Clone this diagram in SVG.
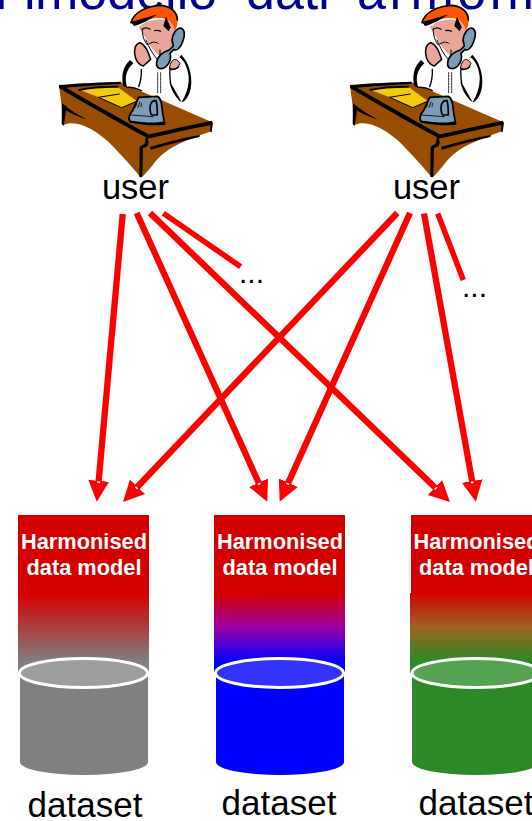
<svg xmlns="http://www.w3.org/2000/svg" width="532" height="821" viewBox="0 0 532 821">
<style>
text{font-family:"Liberation Sans",Arial,sans-serif}
.title{font-size:52px;fill:#000099}
.lbl{font-size:34.5px;fill:#000;text-anchor:middle}
.ds{font-size:35px}
.dots{font-size:30px;fill:#000}
.hdr{font-size:21.8px;font-weight:bold;fill:#fff;text-anchor:middle}
.hd{fill:#d40000}
.lid{stroke:#fff;stroke-width:3}
.cn line{stroke:#f00;stroke-width:6.3;fill:none}
.cn .short{stroke-width:5.5}
.k{fill:none;stroke:#000;stroke-linecap:round;stroke-linejoin:round}
</style>
<defs>
<linearGradient id="gGray" x1="0" y1="0" x2="0" y2="1"><stop offset="0" stop-color="#d40000"/><stop offset="1" stop-color="#808080"/></linearGradient>
<linearGradient id="gBlue" x1="0" y1="0" x2="0" y2="1"><stop offset="0" stop-color="#d40000"/><stop offset=".5" stop-color="#9a00a8"/><stop offset="1" stop-color="#0000ff"/></linearGradient>
<linearGradient id="gGreen" x1="0" y1="0" x2="0" y2="1"><stop offset="0" stop-color="#d40000"/><stop offset=".5" stop-color="#9c6520"/><stop offset="1" stop-color="#2b8a27"/></linearGradient>
<marker id="head" markerUnits="userSpaceOnUse" markerWidth="24" markerHeight="24" refX="1" refY="12" orient="auto">
<path d="M0 1.6 L21 12 L0 22.4Z" fill="#f00"/><path d="M1.4 10.5V13.5" stroke="#fff" stroke-width="1.6" fill="none"/>
</marker>
<g id="clerk" transform="translate(40 0) scale(.3333)">
<path d="M57 258 L240 246 L515 366 L514 394 C450 415 385 440 350 480 C330 505 315 525 303 533 C280 505 245 465 205 425 C165 390 110 355 68 376 L64 310Z" fill="#994d00"/>
<path d="M120 270 L228 257 L290 303 L245 323 L180 293Z" fill="#f2cc0c"/>
<path class="k" stroke-width="6" d="M118 270 C150 262 195 260 232 260"/>
<path class="k" stroke-width="3" d="M175 292 L238 282 M180 294 L245 323 L290 304"/>
<path d="M57 255 C120 249 190 247 244 245 L240 252 C180 255 120 259 78 263 C150 305 240 355 324 402 L318 412 C225 362 130 307 57 264Z"/>
<path d="M318 405 C385 390 450 376 516 362 L516 374 C450 387 385 402 322 416Z"/>
<path d="M330 441 C380 426 430 413 480 405 L478 411 C430 422 380 436 333 449Z"/>
<path d="M66 310 L80 320 L71 378 L65 372Z"/>
<path d="M68 312 C90 330 115 345 140 358 C110 349 85 337 68 324Z"/>
<path d="M318 410 C328 420 329 434 318 442 L309 444 L307 530 L298 531 L299 440 L314 431Z"/>
<path d="M513 362 L519 368 L515 397 L510 394Z"/>
<path d="M252 240 C256 205 275 185 295 175 L340 190 L392 200 L420 165 C445 185 458 220 452 260 C447 285 440 300 425 305 L300 262 L262 262Z" fill="#fff"/>
<path d="M296 82 C320 58 365 52 392 66 L406 82 L395 150 C385 150 370 155 358 168 C345 155 330 142 320 118Z" fill="#e8a598"/>
<path d="M272 68 C278 38 320 16 365 15 C398 20 413 40 413 62 C413 72 410 82 405 92 C400 72 388 58 365 54 C340 52 310 60 282 76Z" fill="#ff5500"/>
<path class="k" stroke-width="5" d="M273 68 C280 38 320 17 365 16 C397 20 412 40 412 60"/>
<path d="M272 64 C290 64 315 52 350 44 C332 58 305 72 282 78Z"/>
<path d="M378 50 L392 82 L386 94 L370 78Z"/>
<path class="k" stroke-width="3.5" d="M306 88 C315 82 322 82 330 88 M344 92 C350 90 358 92 362 94"/>
<path class="k" stroke-width="3" d="M307 90 C306 105 314 128 322 135 M326 132 L340 126 C345 128 352 126 354 130"/>
<path class="k" stroke-width="3" d="M360 150 L360 178 M318 120 C328 145 340 165 352 178"/>
<path d="M286 172 C280 150 285 132 300 128 C318 135 325 158 332 178 L310 198 C298 195 290 185 286 172Z" fill="#e8a598" stroke="#000" stroke-width="4.5" stroke-linejoin="round"/>
<path d="M388 205 C395 170 410 175 420 190 L412 205 L395 210Z" fill="#e8a598" stroke="#000" stroke-width="3"/>
<path d="M396 120 C398 100 410 84 422 84 C435 88 436 105 428 125 C422 142 410 155 402 148 L390 160 C395 170 390 190 378 200 C362 212 348 205 350 188 C352 170 368 155 388 150 L400 138Z" fill="#7d9cb8" stroke="#000" stroke-width="5" stroke-linejoin="round"/>
<path class="k" stroke-width="4" d="M296 260 C300 250 305 230 304 208 M262 262 C285 260 295 268 304 272"/>
<path d="M270 180 L280 190 C258 210 252 235 262 264 L250 258 C243 230 248 200 270 180Z"/>
<path d="M424 164 C445 185 458 225 453 260 C450 282 438 305 425 306 C435 290 448 260 446 230 C444 205 432 180 418 172Z"/>
<path d="M392 248 C405 270 415 290 425 305 L418 302 C402 285 392 265 388 245Z"/>
<path class="k" stroke-width="4" d="M390 205 C395 210 408 208 416 200 M390 205 C388 220 390 235 392 250"/>
<path class="k" stroke-width="2.5" stroke-dasharray="5 3" d="M353 218 V278 M362 218 V278"/>
<path d="M296 292 L352 289 C364 292 366 318 368 340 L374 370 C340 378 300 368 272 366 C262 358 268 342 278 332Z" fill="#7d9cb8" stroke="#000" stroke-width="5" stroke-linejoin="round"/>
<path class="k" stroke-width="5" d="M333 342 C326 320 332 300 348 302 C352 312 352 330 352 345 L335 345"/>
<path class="k" stroke-width="2.5" d="M270 345 L340 350 M300 306 L294 322 M290 312 L286 322 M305 310 L303 320"/>
<path d="M274 362 C310 368 345 370 374 364 L376 374 C340 380 300 372 272 368Z"/>
</g>
</defs>

<text class="title" y="9"><tspan x="-6">I</tspan><tspan x="24">l</tspan> <tspan x="35">modello</tspan> <tspan x="246">dati</tspan> <tspan x="357" letter-spacing="3.6">armoni</tspan></text>

<g id="connectors" class="cn">
<line x1="122.7" y1="214" x2="98.6" y2="481.8" marker-end="url(#head)"/>
<line x1="136.7" y1="213" x2="259" y2="483.6" marker-end="url(#head)"/>
<line x1="150" y1="213" x2="435.6" y2="488.1" marker-end="url(#head)"/>
<line class="short" x1="163.3" y1="213.3" x2="240.7" y2="266.7"/>
<line x1="397.3" y1="213" x2="136.8" y2="487.5" marker-end="url(#head)"/>
<line x1="410" y1="213" x2="287.9" y2="483.6" marker-end="url(#head)"/>
<line x1="424" y1="213.5" x2="472.3" y2="482" marker-end="url(#head)"/>
<line class="short" x1="437.7" y1="213.5" x2="463.3" y2="280"/>
</g>

<g id="user-1"><use href="#clerk"/><text class="lbl" x="135.5" y="199">user</text></g>
<g id="user-2"><use href="#clerk" x="291"/><text class="lbl" x="426.5" y="199">user</text></g>
<text class="dots" x="239" y="283">...</text>
<text class="dots" x="462" y="297">...</text>

<g id="dataset-1">
<rect class="hd" x="18" y="515" width="131" height="80"/>
<rect x="18" y="594" width="131" height="68" fill="url(#gGray)"/><rect x="18" y="661" width="131" height="12" fill="#808080"/>
<path d="M20 673V762A64 13 0 0 0 148 762V673Z" fill="#808080"/>
<ellipse class="lid" cx="83.5" cy="673" rx="64" ry="14.5" fill="#9e9e9e"/>
<text class="hdr" x="84" y="549">Harmonised</text><text class="hdr" x="84" y="575">data model</text>
<text class="lbl ds" x="85" y="817">dataset</text>
</g>
<g id="dataset-2">
<rect class="hd" x="214" y="515" width="131" height="80"/>
<rect x="214" y="594" width="131" height="68" fill="url(#gBlue)"/><rect x="214" y="661" width="131" height="12" fill="#00f"/>
<path d="M216 673V762A64 13 0 0 0 344 762V673Z" fill="#00f"/>
<ellipse class="lid" cx="279.5" cy="673" rx="64" ry="14.5" fill="#3333ff"/>
<text class="hdr" x="280" y="549">Harmonised</text><text class="hdr" x="280" y="575">data model</text>
<text class="lbl ds" x="279" y="815">dataset</text>
</g>
<g id="dataset-3">
<rect class="hd" x="411" y="515" width="131" height="80"/>
<rect x="410" y="593" width="131" height="69" fill="url(#gGreen)"/><rect x="410" y="661" width="131" height="12" fill="#2b8a27"/>
<path d="M412 673V762A64 13 0 0 0 540 762V673Z" fill="#2b8a27"/>
<ellipse class="lid" cx="476" cy="673" rx="64" ry="14.5" fill="#55a352"/>
<text class="hdr" x="476.5" y="549">Harmonised</text><text class="hdr" x="476.5" y="575">data model</text>
<text class="lbl ds" x="476" y="815">dataset</text>
</g>
</svg>
